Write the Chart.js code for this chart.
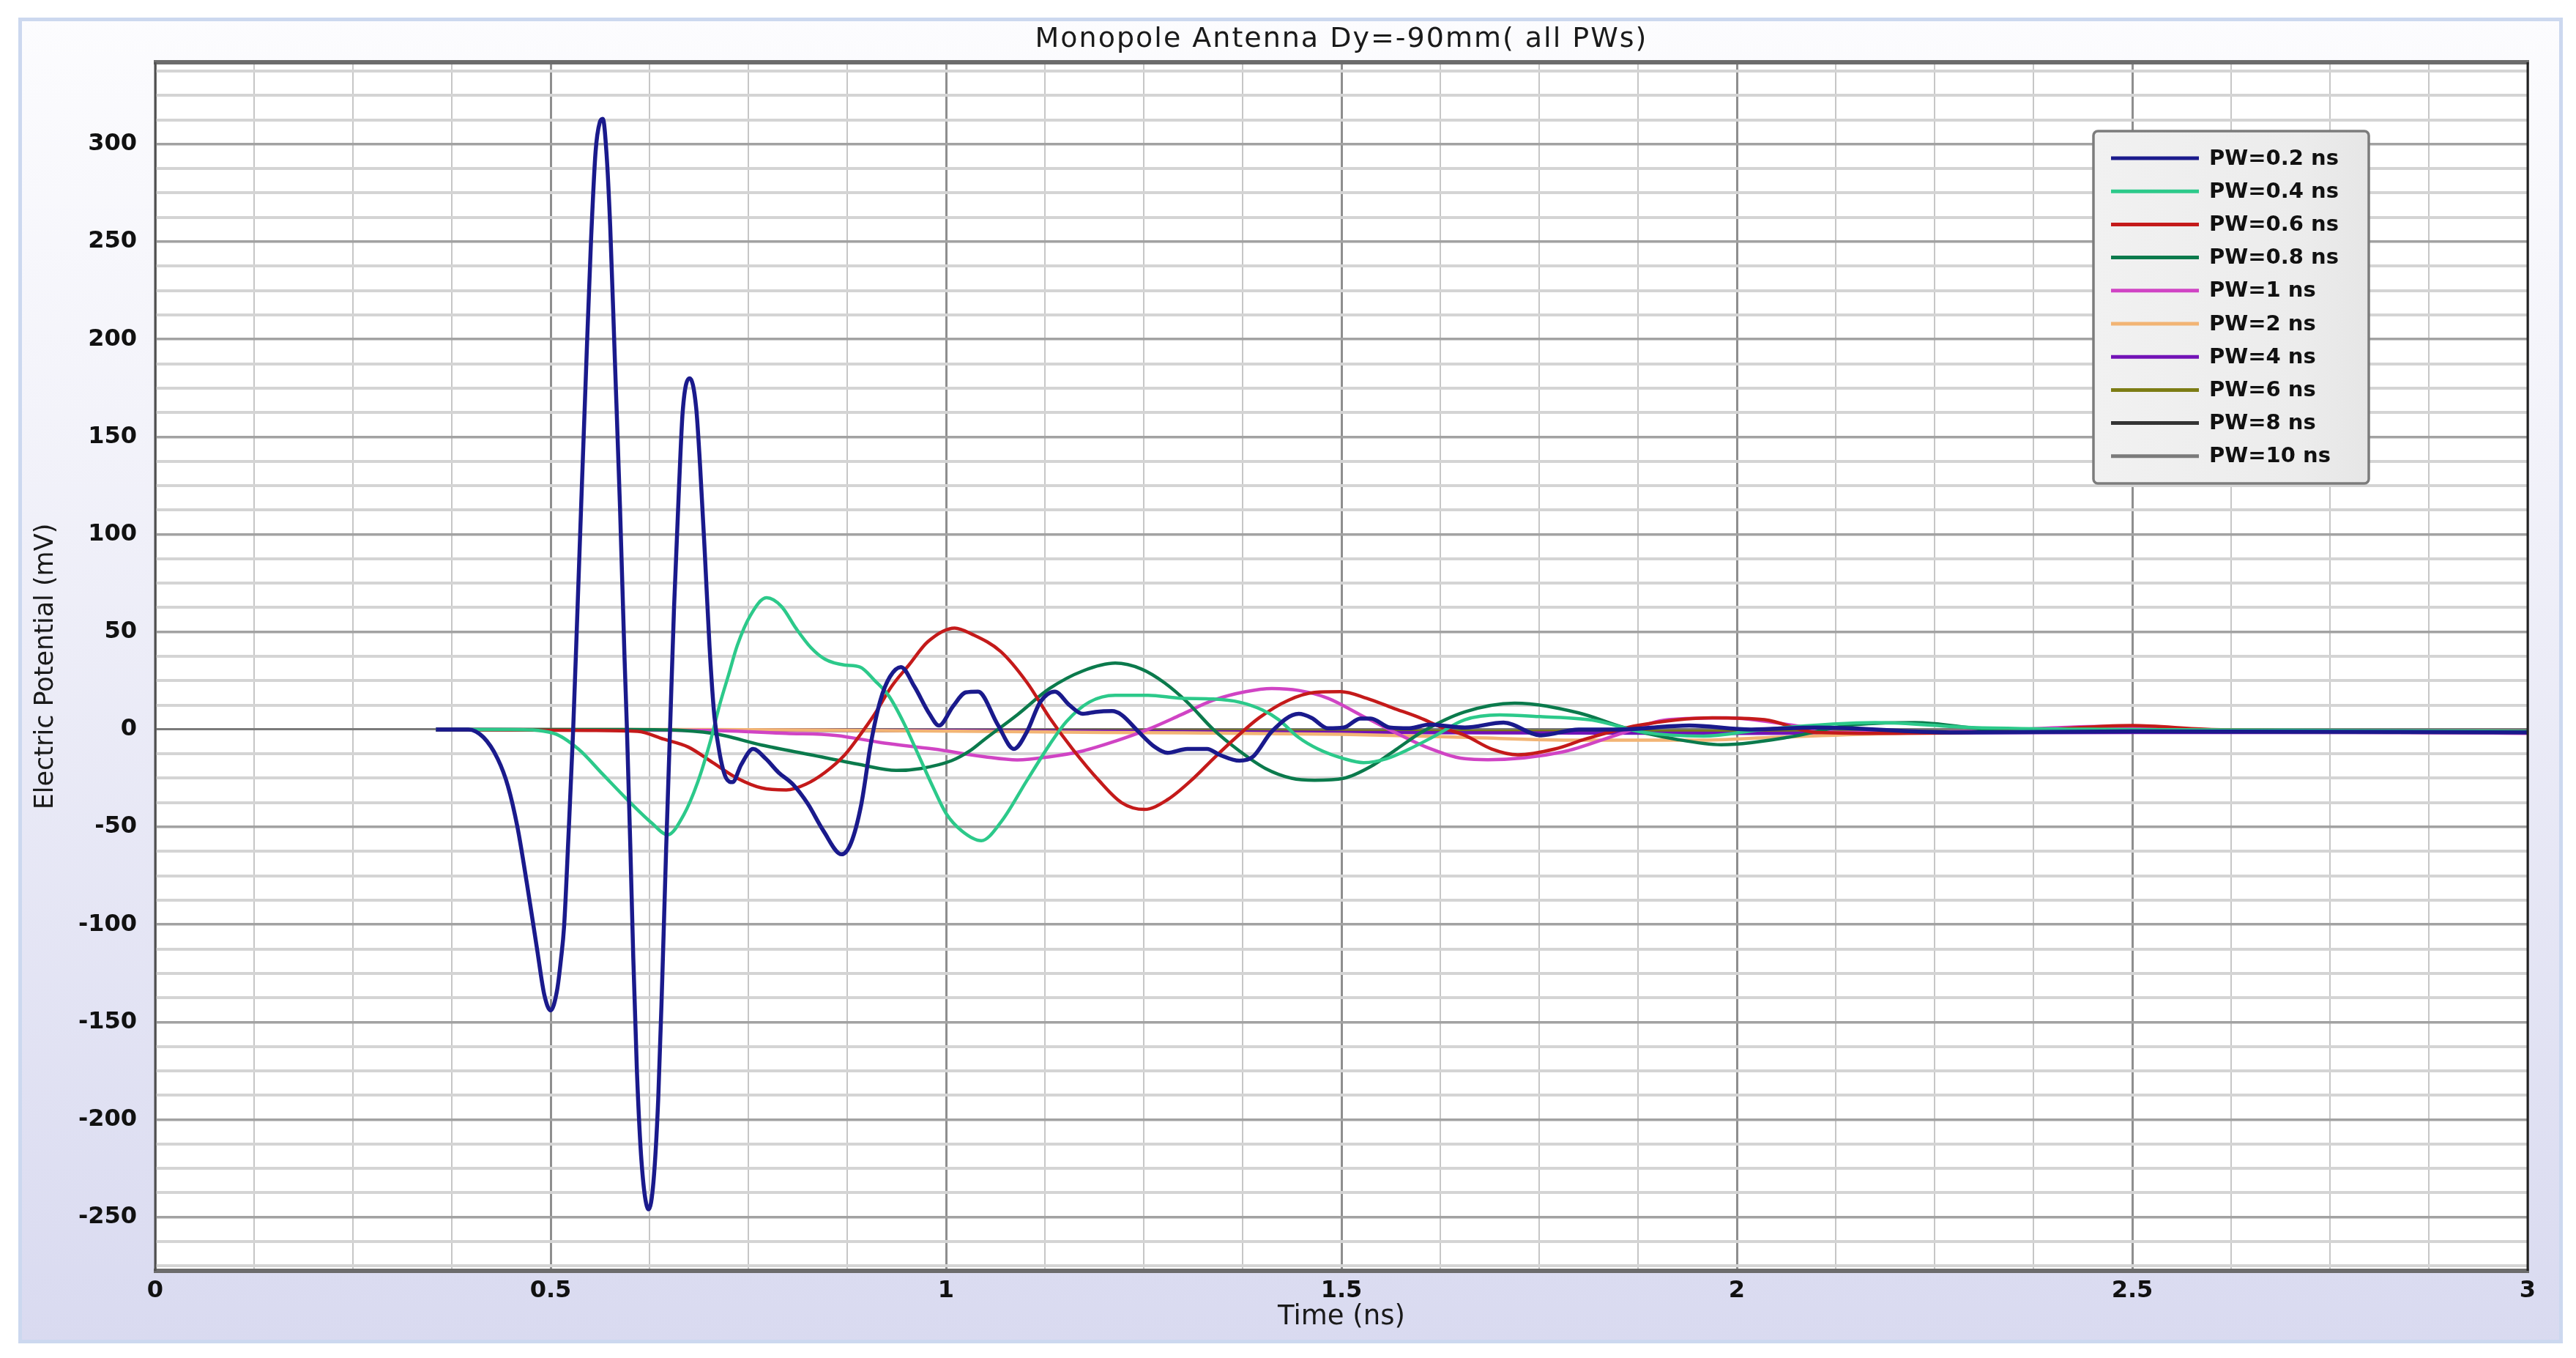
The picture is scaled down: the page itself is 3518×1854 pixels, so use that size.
<!DOCTYPE html>
<html><head><meta charset="utf-8">
<script src="https://cdn.jsdelivr.net/npm/chart.js@4.4.1/dist/chart.umd.min.js"></script>
<style>html,body{margin:0;padding:0;background:#fff;}canvas{display:block;}</style>
</head><body>
<canvas id="c" width="3518" height="1854"></canvas>
<script>
// ---------- data (time in ns, potential in mV) ----------
const chartTitle = 'Monopole Antenna Dy=-90mm( all PWs)';
const seriesLabels = ['PW=0.2 ns','PW=0.4 ns','PW=0.6 ns','PW=0.8 ns','PW=1 ns','PW=2 ns','PW=4 ns','PW=6 ns','PW=8 ns','PW=10 ns'];
const seriesColors = ['#1a1a8c','#2cc98a','#c41a1a','#0b7a4c','#d044c4','#f2b474','#7212b6','#7c7c14','#333333','#7a7a7a'];

const pw02 = [[0.355,0],[0.396,0],[0.415,-4],[0.433,-15],[0.446,-29],[0.458,-50],[0.470,-79],[0.483,-113],[0.492,-136],[0.500,-144],[0.508,-134],[0.513,-118],[0.517,-101],[0.5225,-55],[0.5285,0],[0.534,62],[0.5395,125],[0.5455,192],[0.551,250],[0.5568,296],[0.562,311],[0.566,313],[0.5707,295],[0.5753,258],[0.581,192],[0.5877,114],[0.5935,36],[0.5965,0],[0.6007,-59],[0.6045,-117],[0.609,-174],[0.615,-222],[0.624,-246],[0.630,-232],[0.636,-190],[0.641,-130],[0.646,-62],[0.651,0],[0.656,62],[0.662,121],[0.667,163],[0.676,180],[0.684,165],[0.689,135],[0.695,90],[0.701,42],[0.707,7],[0.714,-13],[0.722,-25],[0.730,-27],[0.741,-18],[0.756,-10],[0.772,-15],[0.788,-22],[0.806,-28],[0.825,-38],[0.845,-52],[0.868,-64],[0.880,-58],[0.893,-38],[0.905,-7],[0.917,15],[0.929,27],[0.943,32],[0.960,22],[0.979,8],[0.991,2],[1.009,12],[1.025,19],[1.0405,19.4],[1.0653,2.5],[1.0859,-10],[1.1025,-1],[1.119,14],[1.1376,19.4],[1.156,12.5],[1.173,8],[1.189,9],[1.21,9.4],[1.222,7.5],[1.243,-1],[1.264,-9],[1.28,-12],[1.305,-10],[1.33,-10],[1.346,-13],[1.371,-16],[1.388,-14],[1.412,-1],[1.446,8],[1.462,6],[1.483,0.6],[1.503,1],[1.524,5.6],[1.537,5.6],[1.561,1],[1.586,0.6],[1.611,2.5],[1.656,1],[1.705,3.5],[1.752,-3],[1.8,0],[1.85,0],[1.94,2],[2.018,0],[2.1,1],[2.27,-1.5],[2.5,-1],[3.0,-1.5]];
const pw04 = [[0.355,0],[0.45,0],[0.504,-2],[0.535,-10],[0.566,-23],[0.597,-36],[0.628,-48],[0.648,-54],[0.668,-44],[0.686,-27],[0.702,-6],[0.714,13],[0.725,28],[0.736,43],[0.752,58],[0.773,67.5],[0.792,63],[0.810,52],[0.829,42],[0.847,36],[0.872,33],[0.891,32],[0.910,25],[0.928,17],[0.947,3],[0.965,-13],[0.984,-30],[1.0,-43],[1.02,-52],[1.0446,-57],[1.0694,-47.5],[1.1025,-26],[1.1314,-7.5],[1.1521,4],[1.181,14],[1.214,17.5],[1.2554,17.5],[1.2967,16],[1.338,15.6],[1.371,14],[1.40,10],[1.4207,5],[1.4455,-4],[1.4703,-10],[1.5034,-15],[1.528,-17],[1.557,-15],[1.586,-10],[1.615,-4],[1.656,5],[1.70,7.5],[1.751,6.6],[1.817,4.8],[1.883,-1.5],[1.958,-3.4],[2.033,0],[2.175,3.5],[2.297,1],[2.5,0],[3.0,-1]];
const pw06 = [[0.355,0],[0.55,-0.5],[0.61,-1],[0.643,-5],[0.674,-9],[0.705,-17],[0.736,-25],[0.767,-30],[0.798,-31],[0.823,-28],[0.847,-22],[0.872,-13],[0.891,-3],[0.910,8],[0.931,22],[0.953,33],[0.977,45],[1.011,52],[1.032,49],[1.069,40],[1.1025,24],[1.131,6],[1.160,-10],[1.193,-26],[1.222,-37.5],[1.251,-41],[1.280,-36],[1.313,-25],[1.338,-15],[1.367,-4],[1.396,6],[1.433,15],[1.466,19],[1.499,19.4],[1.532,16],[1.565,11],[1.599,6],[1.627,1],[1.656,-3],[1.69,-10],[1.723,-13],[1.77,-10],[1.808,-5],[1.874,2],[1.969,6],[2.035,5],[2.101,-1.5],[2.2,-2],[2.35,-1],[2.5,2],[2.6,0],[3.0,-1]];
const pw08 = [[0.355,0],[0.6,0],[0.705,-2],[0.767,-8],[0.829,-13],[0.891,-18],[0.937,-21],[0.968,-20],[1.007,-16],[1.030,-11],[1.049,-5],[1.09,7.5],[1.131,21],[1.173,30],[1.214,34],[1.247,31],[1.276,24],[1.305,14],[1.338,0],[1.371,-11],[1.404,-20],[1.437,-25],[1.466,-26],[1.503,-25],[1.537,-19],[1.57,-10],[1.603,-1],[1.656,9],[1.719,13.5],[1.8,8.5],[1.857,1],[1.923,-5],[1.98,-7.8],[2.065,-4],[2.14,2],[2.225,3.5],[2.32,0],[2.5,-1],[3.0,-1]];
const pw1 = [[0.355,0],[0.7,-0.5],[0.798,-2],[0.860,-3],[0.922,-7],[0.984,-10],[1.049,-14],[1.09,-15.6],[1.131,-14],[1.173,-11],[1.214,-6],[1.255,0],[1.297,7.5],[1.338,15],[1.379,19.4],[1.412,21],[1.446,20],[1.483,16],[1.524,7.5],[1.565,-1],[1.607,-9],[1.656,-15],[1.685,-15.5],[1.78,-11.5],[1.847,-3],[1.913,5],[1.988,6],[2.073,2],[2.13,-1.5],[2.3,-1],[2.46,1.6],[2.55,0],[3.0,-2]];
const pw2 = [[0.355,0],[0.7,0],[0.9,-0.5],[1.2,-1.5],[1.5,-2.5],[1.65,-4],[1.8,-5.5],[1.95,-5.5],[2.05,-4],[2.2,-2],[2.5,-1],[3.0,-1.5]];
const pw4 = [[0.355,0],[1.0,-0.5],[1.5,-1.5],[2.0,-2],[2.5,-1.5],[3.0,-1.5]];
const pw6 = [[0.355,0],[1.0,-0.5],[2.0,-1],[3.0,-1.5]];
const pw8 = [[0.355,0],[1.0,-0.5],[2.0,-1.2],[3.0,-1.5]];
const pw10 = [[0.355,0],[1.0,-0.3],[2.0,-0.8],[3.0,-1]];
const seriesData = [pw02,pw04,pw06,pw08,pw1,pw2,pw4,pw6,pw8,pw10];

const xTickLabels = [0,0.5,1,1.5,2,2.5,3];
const yTickLabels = [-250,-200,-150,-100,-50,0,50,100,150,200,250,300];
const xGridStep = 0.125, yGridStep = 12.5;

// ---------- styling ----------
const FONT = '"DejaVu Sans", Verdana, sans-serif';

const bgPlugin = {
  id: 'bg',
  beforeDraw(chart) {
    const {ctx, chartArea: a} = chart;
    ctx.save();
    ctx.fillStyle = '#ffffff';
    ctx.fillRect(0, 0, chart.width, chart.height);
    const g = ctx.createLinearGradient(0, 24, 0, 1834);
    g.addColorStop(0, '#fcfcfe');
    g.addColorStop(0.3, '#f3f3fa');
    g.addColorStop(1, '#d9daf0');
    ctx.fillStyle = g;
    ctx.fillRect(25, 24, 3475, 1810);
    ctx.strokeStyle = '#ccd8ef';
    ctx.lineWidth = 5;
    ctx.strokeRect(27.5, 26.5, 3470, 1805);
    ctx.fillStyle = '#ffffff';
    ctx.fillRect(a.left, a.top, a.right - a.left, a.bottom - a.top);
    // chart title, centred over the plot area
    ctx.fillStyle = '#1a1a1a';
    ctx.font = '38px ' + FONT;
    if ('letterSpacing' in ctx) ctx.letterSpacing = '2px';
    ctx.textAlign = 'center';
    ctx.textBaseline = 'middle';
    ctx.fillText(chartTitle, (a.left + a.right) / 2, 54);
    ctx.restore();
  }
};

const framePlugin = {
  id: 'frame',
  afterDatasetsDraw(chart) {
    const {ctx, chartArea: a} = chart;
    ctx.save();
    ctx.strokeStyle = '#6c6c6c';
    ctx.lineWidth = 6;
    ctx.beginPath();
    ctx.moveTo(a.left - 2, a.top); ctx.lineTo(a.right + 2, a.top);
    ctx.moveTo(a.left - 2, a.bottom); ctx.lineTo(a.right + 2, a.bottom);
    ctx.stroke();
    ctx.lineWidth = 3;
    ctx.strokeStyle = '#505050';
    ctx.beginPath(); ctx.moveTo(a.left, a.top); ctx.lineTo(a.left, a.bottom); ctx.stroke();
    ctx.strokeStyle = '#222222';
    ctx.beginPath(); ctx.moveTo(a.right, a.top); ctx.lineTo(a.right, a.bottom); ctx.stroke();
    ctx.restore();
  }
};

const legendBox = {x: 2859, y: 179, w: 376, h: 481, firstRow: 37, rowStep: 45.2, lineStart: 24, lineEnd: 144, textStart: 158};
const legendPlugin = {
  id: 'insideLegend',
  afterDraw(chart) {
    const ctx = chart.ctx, b = legendBox;
    ctx.save();
    ctx.beginPath();
    ctx.roundRect(b.x, b.y, b.w, b.h, 6);
    const g = ctx.createLinearGradient(b.x, 0, b.x + b.w, 0);
    g.addColorStop(0, '#f1f1f1'); g.addColorStop(0.75, '#ececec'); g.addColorStop(1, '#e6e6e6');
    ctx.fillStyle = g;
    ctx.fill();
    ctx.lineWidth = 3.5;
    ctx.strokeStyle = '#7c7c7c';
    ctx.stroke();
    chart.data.datasets.forEach((ds, i) => {
      const y = b.y + b.firstRow + i * b.rowStep;
      ctx.strokeStyle = ds.borderColor;
      ctx.lineWidth = 5;
      ctx.beginPath();
      ctx.moveTo(b.x + b.lineStart, y); ctx.lineTo(b.x + b.lineEnd, y);
      ctx.stroke();
      ctx.fillStyle = '#111111';
      ctx.font = 'bold 29px ' + FONT;
      ctx.textBaseline = 'middle';
      ctx.textAlign = 'left';
      ctx.fillText(ds.label, b.x + b.textStart, y + 1);
    });
    ctx.restore();
  }
};

const datasets = seriesData.map((d, i) => ({
  label: seriesLabels[i],
  data: d.map(p => ({x: p[0], y: p[1]})),
  borderColor: seriesColors[i],
  backgroundColor: seriesColors[i],
  borderWidth: i === 0 ? 5.5 : 4.5,
  pointRadius: 0,
  cubicInterpolationMode: 'monotone',
  fill: false
}));

const isMultiple = (v, m) => Math.abs(v / m - Math.round(v / m)) < 1e-6;

new Chart(document.getElementById('c'), {
  type: 'line',
  data: {datasets},
  plugins: [bgPlugin, framePlugin, legendPlugin],
  options: {
    responsive: false,
    animation: false,
    devicePixelRatio: 1,
    layout: {padding: {left: 0, right: 66, top: 85, bottom: 0}},
    plugins: {
      legend: {display: false},
      tooltip: {enabled: false},
      title: {display: false}
    },
    scales: {
      x: {
        type: 'linear', min: 0, max: 3,
        afterFit(s) { s.height = 119; },
        afterBuildTicks(s) {
          const t = [];
          for (let i = 0; i * xGridStep <= 3 + 1e-9; i++) t.push({value: i * xGridStep});
          s.ticks = t;
        },
        ticks: {
          autoSkip: false, maxRotation: 0, minRotation: 0, padding: 8,
          color: '#111111',
          font: {family: FONT, size: 32, weight: 'bold'},
          callback: v => xTickLabels.some(l => Math.abs(l - v) < 1e-9) ? String(v) : ''
        },
        grid: {
          drawTicks: false,
          color: c => isMultiple(c.tick.value, 0.5) ? '#8e8e8e' : '#c6c6c6',
          lineWidth: c => isMultiple(c.tick.value, 0.5) ? 3 : 2
        },
        border: {display: false},
        title: {
          display: true, text: 'Time (ns)', color: '#1a1a1a',
          font: {family: FONT, size: 37, weight: 'normal', lineHeight: 1.2},
          padding: {top: 0, bottom: 33}
        }
      },
      y: {
        type: 'linear', min: -277.5, max: 342,
        afterFit(s) { s.width = 212; },
        afterBuildTicks(s) {
          const t = [];
          for (let v = -275; v <= 340; v += yGridStep) t.push({value: v});
          s.ticks = t;
        },
        ticks: {
          autoSkip: false, padding: 25,
          color: '#111111',
          font: {family: FONT, size: 32, weight: 'bold'},
          callback: v => yTickLabels.includes(v) ? String(v) : ''
        },
        grid: {
          drawTicks: false,
          color: c => c.tick.value === 0 ? '#7a7a7a' : (isMultiple(c.tick.value, 50) ? '#a2a2a2' : '#d4d4d4'),
          lineWidth: c => c.tick.value === 0 ? 3 : (isMultiple(c.tick.value, 50) ? 3.5 : 4)
        },
        border: {display: false},
        title: {
          display: true, text: 'Electric Potential (mV)', color: '#1a1a1a',
          font: {family: FONT, size: 35, weight: 'normal', lineHeight: 1.2},
          padding: {top: 42, bottom: 0}
        }
      }
    }
  }
});
</script>
</body></html>
